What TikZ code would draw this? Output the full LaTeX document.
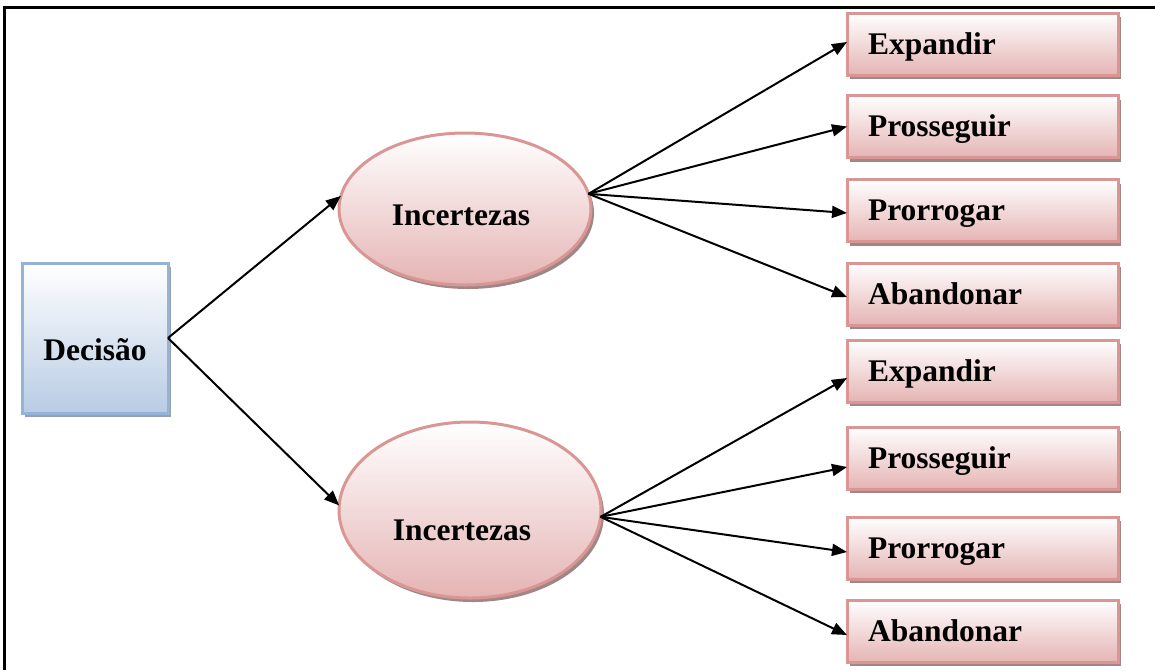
\documentclass[tikz,border=0pt]{standalone}
\usepackage{fontspec}
\setmainfont{Liberation Serif}
\usetikzlibrary{shapes.geometric,arrows.meta,shadows}
\definecolor{pinkline}{RGB}{217,150,148}
\definecolor{pinkbot}{RGB}{229,180,180}
\definecolor{bluebot}{RGB}{184,204,228}
\definecolor{blueline}{RGB}{149,179,215}
\definecolor{pinkshadow}{RGB}{160,135,135}
\definecolor{blueshadow}{RGB}{150,160,178}
\begin{document}
\begin{tikzpicture}[x=1pt,y=-1pt,
  lbl/.style={font=\fontsize{31.5}{37}\selectfont\bfseries, inner sep=0pt},
  optbox/.style={rectangle, draw=pinkline, line width=3pt, top color=white, bottom color=pinkbot,
    minimum width=271pt, minimum height=62pt, inner ysep=0pt, inner xsep=21pt, outer sep=0pt,
    text width=229pt, align=left, text height=20.5pt, text depth=0pt,
    font=\fontsize{31.5}{37}\selectfont\bfseries,
    general shadow={fill=pinkshadow, shadow xshift=3pt, shadow yshift=-4pt}},
  incnode/.style={ellipse, draw=pinkline, line width=3pt, top color=white, bottom color=pinkbot,
    inner sep=0pt, outer sep=0pt,
    general shadow={fill=pinkshadow, shadow xshift=3pt, shadow yshift=-4pt}},
  decbox/.style={rectangle, draw=blueline, line width=3pt, top color=white, bottom color=bluebot,
    minimum width=146pt, minimum height=150pt, inner sep=0pt, outer sep=0pt,
    general shadow={fill=blueshadow, shadow xshift=3pt, shadow yshift=-4pt}},
  arr/.style={line width=2pt, -{Triangle[length=15pt,width=12pt]}},
  frame/.style={line width=3pt, black}
]
\useasboundingbox (0,0) rectangle (1155,670);
\draw[frame] (4.5,670) -- (4.5,7.5) -- (1155,7.5);

% decision
\node[decbox] (dec) at (95,338) {};
\node[lbl, anchor=base] (dect) at (95,360) {Decisão};

% uncertainty ellipses
\node[incnode, minimum width=252pt, minimum height=152pt] (e1) at (465,209) {};
\node[lbl, anchor=base] (e1t) at (461,225) {Incertezas};
\node[incnode, minimum width=262pt, minimum height=176pt] (e2) at (470,510) {};
\node[lbl, anchor=base] (e2t) at (462,540) {Incertezas};

% option boxes
\node[optbox] (b1) at (982.5,44) {Expandir};
\node[optbox] (b2) at (982.5,126.5) {Prosseguir};
\node[optbox] (b3) at (982.5,210.5) {Prorrogar};
\node[optbox] (b4) at (982.5,294) {Abandonar};
\node[optbox] (b5) at (982.5,371) {Expandir};
\node[optbox] (b6) at (982.5,458) {Prosseguir};
\node[optbox] (b7) at (982.5,548) {Prorrogar};
\node[optbox] (b8) at (982.5,631) {Abandonar};

% connectors
\draw[arr] (dec.east) -- (e1.174);
\draw[arr] (dec.east) -- (e2.178);

\draw[arr] (e1.7) -- ([yshift=2pt]b1.west);
\draw[arr] (e1.7) -- (b2.west);
\draw[arr] (e1.7) -- ([yshift=-2.5pt]b3.west);
\draw[arr] (e1.7) -- ([yshift=-3pt]b4.west);

\draw[arr] (e2.-3) -- ([yshift=-7pt]b5.west);
\draw[arr] (e2.-3) -- ([yshift=-9pt]b6.west);
\draw[arr] (e2.-3) -- ([yshift=-4pt]b7.west);
\draw[arr] (e2.-3) -- ([yshift=-4pt]b8.west);
\end{tikzpicture}
\end{document}
